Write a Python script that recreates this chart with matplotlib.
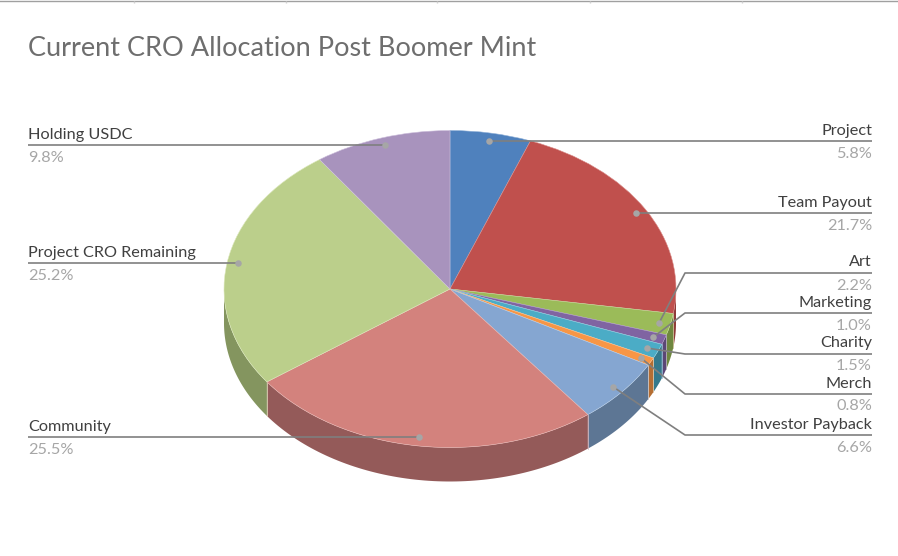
import numpy as np
import matplotlib
matplotlib.use("Agg")
import matplotlib.pyplot as plt

title = "Current CRO Allocation Post Boomer Mint"
categories = ["Project", "Team Payout", "Art", "Marketing", "Charity", "Merch",
              "Investor Payback", "Community", "Project CRO Remaining", "Holding USDC"]
values = [5.8, 21.7, 2.2, 1.0, 1.5, 0.8, 6.6, 25.5, 25.2, 9.8]
top_colors = ["#4F81BD", "#C0504D", "#9BBB59", "#8064A2", "#4BACC6", "#F79646",
              "#85A6D1", "#D3827D", "#BBCF8B", "#A893BD"]
side_colors = ["#3B608C", "#8E3B39", "#6F8740", "#5C4776", "#34798C", "#B56E33",
               "#5D7694", "#945A59", "#84955F", "#776A87"]
edge_colors = ["#8FB0D8", "#DB8F8C", "#C4D99A", "#AD98C6", "#90D0E0", "#FBC08F",
               "#B5CCE6", "#E8B5B2", "#DCE8BC", "#CDBFDC"]

W, H = 898, 556
cx, cy, a, b, depth = 450.0, 289.0, 226.0, 158.5, 34.0
label_font = "Lato"

fig = plt.figure(figsize=(W / 100, H / 100), dpi=100, facecolor="white")

# pixel overlay
ov = fig.add_axes([0, 0, 1, 1], zorder=3)
ov.set_xlim(0, W)
ov.set_ylim(H, 0)
ov.axis("off")
ov.patch.set_alpha(0)

# pie axes: the unit circle maps to the top ellipse
ax = fig.add_axes([(cx - a) / W, 1 - (cy + b) / H, 2 * a / W, 2 * b / H], zorder=2)
wedges, _ = ax.pie(values, colors=top_colors, startangle=90, counterclock=False,
                   radius=1, center=(0, 0),
                   wedgeprops=dict(linewidth=0.4, clip_on=False))
for w, e in zip(wedges, edge_colors):
    w.set_edgecolor(e)
ax.set_aspect("auto")
ax.set_xlim(-1, 1)
ax.set_ylim(-1, 1)
ax.axis("off")

# side wall from the same values
fractions = np.array(values) / np.sum(values)
bounds = np.concatenate([[0], np.cumsum(fractions)]) * 2 * np.pi  # clockwise from top
dz = depth / b
for i in range(len(values)):
    t0, t1 = max(bounds[i], np.pi / 2), min(bounds[i + 1], 3 * np.pi / 2)
    if t1 <= t0:
        continue
    t = np.linspace(t0, t1, 80)
    xs, ys = np.sin(t), np.cos(t)
    ax.fill(np.r_[xs, xs[::-1]], np.r_[ys, ys[::-1] - dz], facecolor=side_colors[i],
            edgecolor="none", zorder=0.5, clip_on=False)
    for tt in (t0, t1):
        if np.pi / 2 < tt < 3 * np.pi / 2:
            ax.plot([np.sin(tt)] * 2, [np.cos(tt), np.cos(tt) - dz], color=edge_colors[i],
                    lw=0.5, zorder=0.6, clip_on=False, alpha=0.8)

# leader lines and labels
mids = (bounds[:-1] + bounds[1:]) / 2
dot_x = cx + 0.95 * a * np.sin(mids)
dot_y = cy - 0.95 * b * np.cos(mids)

line_y = [141, 213, 273, 313, 354, 394, 435, 437, 263, 145]
side = ["r", "r", "r", "r", "r", "r", "r", "l", "l", "l"]
elbow = [None, None, 685, 685, 685, 685, 685, None, None, None]
LEFT, RIGHT = 28, 872
lc = "#7F7F7F"
for i, name in enumerate(categories):
    y = line_y[i]
    if side[i] == "r":
        xs = [dot_x[i]] + ([elbow[i]] if elbow[i] else []) + [RIGHT]
        ys = [dot_y[i] if elbow[i] else y] + ([y] if elbow[i] else []) + [y]
        tx, ha = RIGHT, "right"
    else:
        xs, ys = [LEFT, dot_x[i]], [y, y]
        tx, ha = LEFT, "left"
    ov.plot(xs, ys, color=lc, lw=1.2, solid_capstyle="butt", zorder=3)
    ov.scatter([dot_x[i]], [ys[0] if side[i] == "r" else y], s=22, color="#A6A6A6",
               linewidths=0, zorder=4)
    ov.text(tx, y - 10.5, name, ha=ha, va="center", fontsize=11.7, color="#404040",
            family=label_font)
    ov.text(tx, y + 12.5, f"{values[i]:.1f}%", ha=ha, va="center", fontsize=11.7,
            color="#A6A6A6", family=label_font)

ov.text(28, 48, title, ha="left", va="center", fontsize=19.5, color="#6E6E6E",
        family=label_font)

# spreadsheet gridline remnant along the top edge
ov.plot([0, W], [1, 1], color="#A0A0A0", lw=1)
ov.vlines([134, 286, 437, 590, 742], 1, 3, color="#D0D0D0", lw=1)

fig.savefig("out.png", dpi=100)
